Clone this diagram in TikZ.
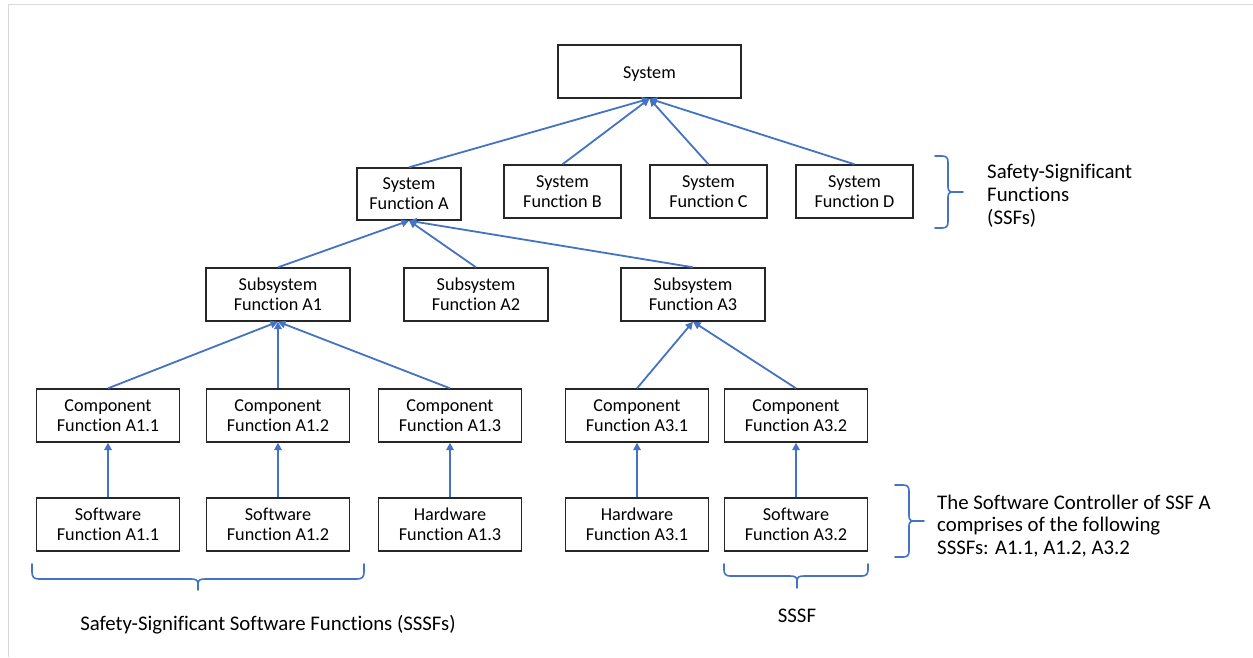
\documentclass[tikz,border=0pt]{standalone}
\usepackage{fontspec}
\setmainfont{Carlito}[Ligatures=NoCommon]
\usetikzlibrary{arrows.meta}
\definecolor{lblue}{HTML}{4472C4}
\definecolor{frame}{HTML}{D9D9D9}
\tikzset{
  box/.style={draw=black!85, line width=1.4pt, inner sep=0pt, align=center,
    font=\fontsize{18.2}{19.8}\selectfont},
  conn/.style={draw=lblue, line width=1.8pt, -{Triangle[width=7.5pt,length=7.5pt]}},
  bracepath/.style={draw=lblue, line width=1.6pt, line cap=round, line join=round},
  sidetext/.style={align=left, anchor=west, inner sep=0pt, font=\fontsize{20.8}{22.8}\selectfont},
  btext/.style={inner sep=0pt, font=\fontsize{20.8}{22.8}\selectfont}
}
\newcommand{\bx}[6]{\node[box, minimum width=#3pt, minimum height=#4pt] (#1) at (#2) {#5\\#6};}
\begin{document}
\begin{tikzpicture}[x=1pt,y=-1pt]
\useasboundingbox (0,0) rectangle (1253,657);
\fill[white] (0,0) rectangle (1253,657);
\draw[frame, line width=1.6pt] (8.5,657) -- (8.5,4.5) -- (1253,4.5);

\node[box, minimum width=183pt, minimum height=53pt,
  label={[font=\fontsize{18.2}{19.8}\selectfont, inner sep=0pt, yshift=-2.5pt]center:System}] (sys) at (649.5,71.5) {};

\bx{sfa}{409,194}{104}{52}{System}{Function A}
\bx{sfb}{562.5,191.5}{117}{53}{System}{Function B}
\bx{sfc}{708.5,191.5}{117}{53}{System}{Function C}
\bx{sfd}{854.5,191.5}{117}{53}{System}{Function D}

\bx{ssa1}{278,294.5}{144}{53}{Subsystem}{Function A1}
\bx{ssa2}{476,294.5}{144}{53}{Subsystem}{Function A2}
\bx{ssa3}{693,294.5}{144}{53}{Subsystem}{Function A3}

\bx{ca11}{108,415.5}{143}{53}{Component}{Function A1.1}
\bx{ca12}{278,415.5}{143}{53}{Component}{Function A1.2}
\bx{ca13}{450,415.5}{143}{53}{Component}{Function A1.3}
\bx{ca31}{637,415.5}{143}{53}{Component}{Function A3.1}
\bx{ca32}{796,415.5}{143}{53}{Component}{Function A3.2}

\bx{sw11}{108,524.5}{143}{53}{Software}{Function A1.1}
\bx{sw12}{278,524.5}{143}{53}{Software}{Function A1.2}
\bx{hw13}{450,524.5}{143}{53}{Hardware}{Function A1.3}
\bx{hw31}{637,524.5}{143}{53}{Hardware}{Function A3.1}
\bx{sw32}{796,524.5}{143}{53}{Software}{Function A3.2}

% connectors
\foreach \c in {sfa,sfb,sfc,sfd} \draw[conn] (\c.north) -- (sys.south);
\foreach \c in {ssa1,ssa2,ssa3} \draw[conn] (\c.north) -- (sfa.south);
\foreach \c in {ca11,ca12,ca13} \draw[conn] (\c.north) -- (ssa1.south);
\foreach \c in {ca31,ca32} \draw[conn] (\c.north) -- (ssa3.south);
\draw[conn] (sw11.north) -- (ca11.south);
\draw[conn] (sw12.north) -- (ca12.south);
\draw[conn] (hw13.north) -- (ca13.south);
\draw[conn] (hw31.north) -- (ca31.south);
\draw[conn] (sw32.north) -- (ca32.south);

% brace for SSFs
\draw[bracepath] (935,156) -- (942,156) .. controls (946.5,156) and (948,158) .. (948,162) -- (948,187)
  .. controls (948,190.5) and (949.5,192) .. (953,192) -- (963,192);
\draw[bracepath] (953,192) .. controls (949.5,192) and (948,193.5) .. (948,197) -- (948,222)
  .. controls (948,226) and (946.5,228) .. (942,228) -- (935,228);
\node[sidetext] (ssf) at (987,196) {Safety-Significant\\Functions\\(SSFs)};

% brace for software controller
\draw[bracepath] (895,485) -- (903,485) .. controls (907.5,485) and (909,487) .. (909,491) -- (909,516)
  .. controls (909,519.5) and (910.5,521) .. (914,521) -- (924,521);
\draw[bracepath] (914,521) .. controls (910.5,521) and (909,522.5) .. (909,526) -- (909,551)
  .. controls (909,555) and (907.5,557) .. (903,557) -- (895,557);
\node[sidetext] (ctrl) at (937,526) {The Software Controller of SSF A\\comprises of the following\\SSSFs: A1.1, A1.2, A3.2};

% bottom left brace
\draw[bracepath] (32,564) -- (32,572) .. controls (32,577) and (34,579) .. (39,579) -- (191,579)
  .. controls (196,579) and (198,580) .. (198,584) -- (198,590);
\draw[bracepath] (198,584) .. controls (198,580) and (200,579) .. (205,579) -- (357,579)
  .. controls (362,579) and (364,577) .. (364,572) -- (364,564);
\node[btext] (sssfs) at (268,625) {Safety-Significant Software Functions (SSSFs)};

% bottom right brace
\draw[bracepath] (724,564) -- (724,570) .. controls (724,574) and (726,576) .. (730,576) -- (790,576)
  .. controls (795,576) and (797,577) .. (797,581) -- (797,588);
\draw[bracepath] (797,581) .. controls (797,577) and (799,576) .. (804,576) -- (862,576)
  .. controls (866,576) and (868,574) .. (868,570) -- (868,564);
\node[btext] (sssf) at (797,616) {SSSF};
\end{tikzpicture}
\end{document}
